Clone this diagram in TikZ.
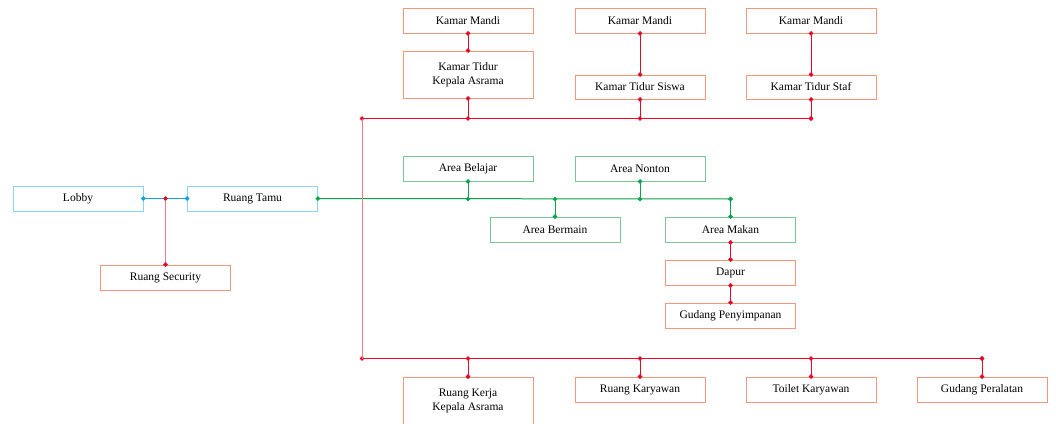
\documentclass[tikz,border=0pt]{standalone}
\usepackage{fontspec}
\setmainfont{Liberation Serif}
\usetikzlibrary{arrows.meta}
\definecolor{lineblue}{RGB}{20,160,235}
\definecolor{boxblue}{RGB}{140,210,245}
\definecolor{linegreen}{RGB}{10,165,75}
\definecolor{boxgreen}{RGB}{120,200,150}
\definecolor{linered}{RGB}{230,10,40}
\definecolor{palered}{RGB}{242,120,135}
\definecolor{boxred}{RGB}{245,150,120}

\tikzset{
  room/.style={draw, line width=0.9pt, minimum width=130pt, minimum height=25pt,
    inner sep=2pt, align=center, font=\fontsize{11.5}{14}\selectfont},
  bluebox/.style={room, draw=boxblue},
  greenbox/.style={room, draw=boxgreen},
  redbox/.style={room, draw=boxred},
  link/.style={line width=1pt, shorten <=-2.25pt, shorten >=-2.25pt,
    {Circle[length=4.5pt]}-{Circle[length=4.5pt]}},
}

\begin{document}
\begin{tikzpicture}[x=1pt, y=-1pt]
    \useasboundingbox (0,0) rectangle (1056,423);

    % Entrance
    \node[bluebox] (lobby) at (78,198.5) {Lobby};
    \node[bluebox] (tamu) at (252.5,198.5) {Ruang Tamu};
    \node[redbox] (security) at (165.5,277.5) {Ruang Security};
    \draw[link, lineblue] (lobby.east) -- (tamu.west);
    \draw[link, palered, {Circle[length=4.5pt, linered]}-{Circle[length=4.5pt, linered]}]
        (security.north) -- (security.north |- lobby.east);

    % Common areas (green)
    \node[greenbox] (belajar) at (468,168.5) {Area Belajar};
    \node[greenbox] (nonton) at (640,168.5) {Area Nonton};
    \node[greenbox] (bermain) at (555,229.5) {Area Bermain};
    \node[greenbox] (makan) at (730.5,229.5) {Area Makan};
    \coordinate (gend) at (730.5,199);
    \draw[link, linegreen] (tamu.east) -- (gend);
    \draw[link, linegreen] (belajar.south) -- (belajar.south |- gend);
    \draw[link, linegreen] (nonton.south) -- (nonton.south |- gend);
    \draw[link, linegreen] (bermain.north) -- (bermain.north |- gend);
    \draw[link, linegreen] (makan.north) -- (gend);

    % Kitchen
    \node[redbox] (dapur) at (730.5,272.5) {Dapur};
    \node[redbox] (gudangp) at (730.5,315.5) {Gudang Penyimpanan};
    \draw[link, linered] (makan.south) -- (dapur.north);
    \draw[link, linered] (dapur.south) -- (gudangp.north);

    % Bedrooms
    \node[redbox] (mandi1) at (468,20.5) {Kamar Mandi};
    \node[redbox] (mandi2) at (640,20.5) {Kamar Mandi};
    \node[redbox] (mandi3) at (811,20.5) {Kamar Mandi};
    \node[redbox, minimum height=47pt] (tidurka) at (468,74.5) {Kamar Tidur\\Kepala Asrama};
    \node[redbox, minimum height=24pt] (tidursiswa) at (640,87) {Kamar Tidur Siswa};
    \node[redbox, minimum height=24pt] (tidurstaf) at (811,87) {Kamar Tidur Staf};
    \draw[link, linered] (mandi1.south) -- (tidurka.north);
    \draw[link, linered] (mandi2.south) -- (tidursiswa.north);
    \draw[link, linered] (mandi3.south) -- (tidurstaf.north);

    % Upper bus
    \coordinate (ta) at (362,118.5);
    \coordinate (tb) at (811,118.5);
    \draw[link, linered] (ta) -- (tb);
    \draw[link, linered] (tidurka.south) -- (tidurka.south |- ta);
    \draw[link, linered] (tidursiswa.south) -- (tidursiswa.south |- ta);
    \draw[link, linered] (tidurstaf.south) -- (tb);

    % Staff rooms
    \node[redbox, minimum height=47pt] (kerja) at (468,400.5) {Ruang Kerja\\Kepala Asrama};
    \node[redbox] (karyawan) at (640,389.5) {Ruang Karyawan};
    \node[redbox] (toilet) at (811,389.5) {Toilet Karyawan};
    \node[redbox] (gudangq) at (982,389.5) {Gudang Peralatan};

    % Lower bus
    \coordinate (ba) at (362,358.5);
    \coordinate (bb) at (982,358.5);
    \draw[link, linered] (ba) -- (bb);
    \draw[link, linered] (kerja.north) -- (kerja.north |- ba);
    \draw[link, linered] (karyawan.north) -- (karyawan.north |- ba);
    \draw[link, linered] (toilet.north) -- (toilet.north |- ba);
    \draw[link, linered] (gudangq.north) -- (bb);

    % Side line
    \draw[palered, line width=1pt] (ta) -- (ba);
\end{tikzpicture}
\end{document}
